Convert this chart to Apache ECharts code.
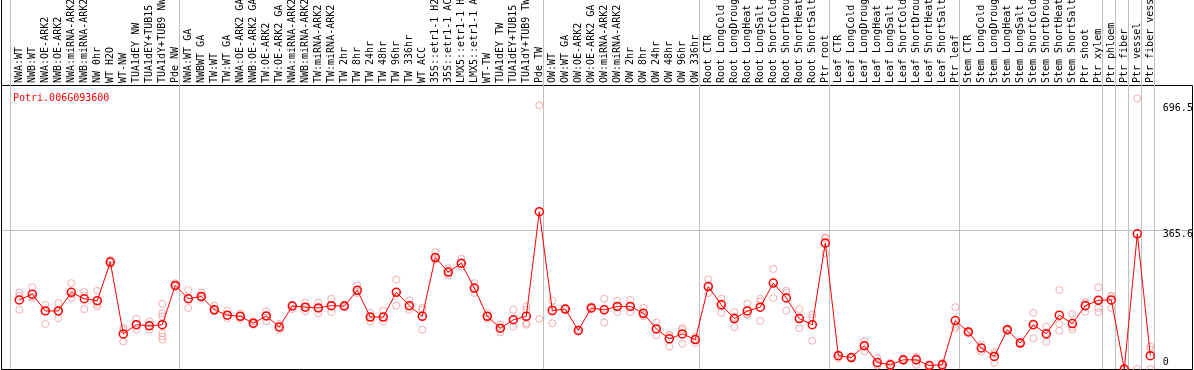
<!DOCTYPE html>
<html><head><meta charset="utf-8">
<script src="https://cdn.jsdelivr.net/npm/echarts@6/dist/echarts.min.js"></script>
<style>html,body{margin:0;padding:0;background:#fff}#c{width:1194px;height:370px}</style>
</head><body><div id="c"></div><script>
const geneName = 'Potri.006G093600';

const categories = [
  'NWA:WT','NWB:WT','NWA:OE-ARK2','NWB:OE-ARK2','NWA:miRNA-ARK2','NWB:miRNA-ARK2','NW 0hr','WT H2O','WT-NW','TUA1dEY NW','TUA1dEY+TUB15 NW','TUA1dY+TUB9 NW','Pde NW',
  'NWA:WT GA','NWBWT GA','TW:WT','TW:WT GA','NWA:OE-ARK2 GA','NWB:OE-ARK2 GA','TW:OE-ARK2','TW:OE-ARK2 GA','NWA:miRNA-ARK2 GA','NWB:miRNA-ARK2 GA','TW:miRNA-ARK2','TW:miRNA-ARK2 GA',
  'TW 2hr','TW 8hr','TW 24hr','TW 48hr','TW 96hr','TW 336hr','WT ACC','35S::etr1-1 H2O','35S::etr1-1 ACC','LMX5::etr1-1 H2O','LMX5::etr1-1 ACC','WT-TW','TUA1dEY TW','TUA1dEY+TUB15 TW','TUA1dY+TUB9 TW','Pde TW',
  'OW:WT','OW:WT GA','OW:OE-ARK2','OW:OE-ARK2 GA','OW:miRNA-ARK2','OW:miRNA-ARK2 GA','OW 2hr','OW 8hr','OW 24hr','OW 48hr','OW 96hr','OW 336hr',
  'Root CTR','Root LongCold','Root LongDrought','Root LongHeat','Root LongSalt','Root ShortCold','Root ShortDrought','Root ShortHeat','Root ShortSalt','Ptr root',
  'Leaf CTR','Leaf LongCold','Leaf LongDrought','Leaf LongHeat','Leaf LongSalt','Leaf ShortCold','Leaf ShortDrought','Leaf ShortHeat','Leaf ShortSalt','Ptr leaf',
  'Stem CTR','Stem LongCold','Stem LongDrought','Stem LongHeat','Stem LongSalt','Stem ShortCold','Stem ShortDrought','Stem ShortHeat','Stem ShortSalt','Ptr shoot','Ptr xylem',
  'Ptr phloem','Ptr fiber','Ptr vessel','Ptr fiber vessel'
];

// index of first category in each group (vertical separator lines)
const groupStarts = [0, 13, 41, 53, 63, 73, 84, 85, 86, 87];

const means = [
  181,196,152,152,201,184,179,280,92,116,113,116,219,
  184,190,155,141,138,120,139,110,165,162,160,166,
  165,206,136,136,201,166,138,292,254,277,212,138,107,129,138,412,
  153,157,101,160,155,164,164,146,105,79,92,77,
  216,168,132,152,162,225,186,132,116,330,
  35,30,61,17,11,24,24,9,11,127,
  97,55,33,103,68,116,92,141,119,166,180,
  181,0,354,35
];

const replicates = [
  [200,192,155],[214,186,190],[168,152,118],[173,152,133],[225,186,196],[202,193,157],[205,170,164],[286,280,273],[107,103,72],[132,116,103],[125,113,103],[171,146,138,94,85,77],[225,216,219],
  [207,160,186],[200,186,190],[166,151,155],[153,133,141],[146,131,138],[125,116,120],[151,125,139],[118,103,110],[168,157,165],[174,151,162],[174,146,160],[184,149,166],
  [168,162,165],[219,199,206],[147,125,136],[153,125,136],[234,166,201],[180,155,166],[160,155,103],[306,286,292],[264,245,254],[289,268,277],[225,199,212],[147,131,138],[116,96,107],[155,111,129],[164,155,120,116],[691,131],
  [179,160,120],[160,155,157],[104,98],[164,157,160],[184,122,158],[179,149,164],[181,149,164],[160,138,142],[122,88,105],[90,59,88],[107,66,103],[85,68,78],
  [235,199,216],[184,147,172],[149,110,136],[171,142,144],[184,126,176],[262,186,227],[205,200,153],[157,107,132],[143,135,74],[345,342,303],
  [39,29,37],[32,28,30],[74,46,63],[29,9,13],[16,7,10],[27,22,24],[32,11,29],[11,5,10],[16,7,11],[162,107,112],
  [100,95,97],[64,46,55],[44,16,39],[106,100,103],[70,66,68],[147,81,120],[111,71,94],[207,118,100],[144,103,110],[175,150,172],[214,160,149,180],
  [192,190,160],[0,0,0],[709,0],[59,52,0]
];

const yTickValues = [0, 365.6, 696.5];
const yMax = 744;

const mono = 'DejaVu Sans Mono';
const repData = [];
replicates.forEach((r, i) => r.forEach(v => repData.push([i, v])));

const chart = echarts.init(document.getElementById('c'), null, {renderer: 'canvas'});
chart.setOption({
  animation: false,
  title: {
    text: geneName, left: 8, top: 88,
    textStyle: {color: '#ff0000', fontFamily: mono, fontSize: 10, fontWeight: 'normal'}
  },
  grid: [
    {left: 1.5, top: 85.5, right: 1.5, bottom: 0.5, show: true, borderColor: '#000', borderWidth: 1, backgroundColor: 'rgba(0,0,0,0)', outerBoundsMode: 'none', containLabel: false},
    {left: 12.8, top: 85, width: 1144, bottom: 1, outerBoundsMode: 'none', containLabel: false},
    {left: 10.7, top: 0, width: 1144, bottom: 1, outerBoundsMode: 'none', containLabel: false}
  ],
  xAxis: [
    {gridIndex: 0, type: 'value', show: false, min: 0, max: 1},
    {gridIndex: 1, type: 'category', position: 'top', data: categories, boundaryGap: true,
      axisLine: {show: false}, axisTick: {show: false}, splitLine: {show: false},
      axisLabel: {interval: 0, rotate: 90, margin: 2, fontFamily: mono, fontSize: 10, color: '#000'}},
    {gridIndex: 2, type: 'category', data: categories, boundaryGap: true,
      axisLine: {show: false}, axisTick: {show: false}, axisLabel: {show: false},
      splitLine: {show: true, interval: (i) => groupStarts.includes(i), lineStyle: {color: '#c0c0c0', width: 1}}}
  ],
  yAxis: [
    {gridIndex: 0, type: 'value', min: 0, max: yMax, interval: yTickValues[1],
      axisLine: {show: false}, axisTick: {show: false}, axisLabel: {show: false},
      splitLine: {show: true, lineStyle: {color: ['rgba(0,0,0,0)', '#c0c0c0', 'rgba(0,0,0,0)', 'rgba(0,0,0,0)'], width: 1}}},
    {gridIndex: 1, type: 'value', position: 'right', min: 0, max: yMax,
      axisLine: {show: false}, axisTick: {show: false}, splitLine: {show: false},
      axisLabel: {customValues: yTickValues.slice(1), verticalAlign: 'top', align: 'left', margin: 6, fontFamily: mono, fontSize: 10, color: '#000'}},
    {gridIndex: 1, type: 'value', position: 'right', min: 0, max: yMax,
      axisLine: {show: false}, axisTick: {show: false}, splitLine: {show: false},
      axisLabel: {customValues: yTickValues.slice(0, 1), verticalAlign: 'bottom', align: 'left', margin: 6, padding: [0, 0, 2, 0], fontFamily: mono, fontSize: 10, color: '#000'}},
    {gridIndex: 2, type: 'value', position: 'left', offset: 9.2,
      axisLine: {show: true, onZero: false, lineStyle: {color: '#000', width: 1}},
      axisTick: {show: false}, axisLabel: {show: false}, splitLine: {show: false}}
  ],
  series: [
    {type: 'scatter', xAxisIndex: 1, yAxisIndex: 1, data: repData, symbol: 'circle', symbolSize: 7,
      itemStyle: {color: 'rgba(0,0,0,0)', borderColor: '#f09a9a', borderWidth: 1}, z: 3, silent: true},
    {type: 'line', xAxisIndex: 1, yAxisIndex: 1, data: means, symbol: 'circle', symbolSize: 8,
      showSymbol: true, showAllSymbol: true,
      lineStyle: {color: '#ff0000', width: 1},
      itemStyle: {color: 'rgba(0,0,0,0)', borderColor: '#ff0000', borderWidth: 1.5}, z: 4, silent: true}
  ]
});
</script></body></html>
